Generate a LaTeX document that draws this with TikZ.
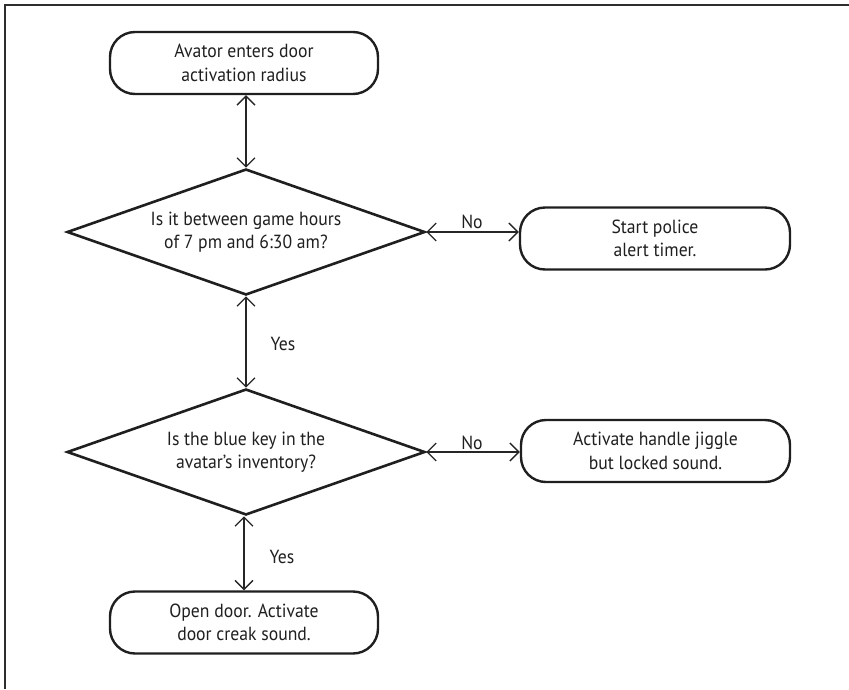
\documentclass[tikz,border=0pt]{standalone}
\usepackage{fontspec}
\setmainfont[FakeStretch=0.93]{PT Sans}
\usetikzlibrary{shapes.geometric,arrows.meta}
\begin{document}
\begin{tikzpicture}[x=1pt,y=-1pt,
  font=\fontsize{19}{23.5}\selectfont,
  proc/.style={draw=black!88,line width=2.4pt,rectangle,rounded corners=25pt,
    minimum width=268pt,minimum height=62pt,align=center,inner sep=0pt,text=black!88},
  decis/.style={draw=black!88,line width=2.6pt,diamond,shape aspect=2.84,
    minimum width=358pt,minimum height=126pt,align=center,inner sep=0pt,text=black!88},
  conn/.style={draw=black!85,line width=1.3pt,
    {Straight Barb[length=9pt,width=18pt]}-{Straight Barb[length=9pt,width=18pt]}},
  lbl/.style={text=black!88,inner sep=0pt}]
\useasboundingbox (0,0) rectangle (849,689);
\draw[line width=2.6pt,black!82] (5,689) -- (5,5) -- (849,5);

\node[proc] (start) at (244,63) {Avator enters door\\activation radius};
\node[decis] (d1) at (246,232) {Is it between game hours\\of 7 pm and 6:30 am?};
\node[proc,minimum width=270pt] (police) at (655,238.5) {Start police\\alert timer.};
\node[decis] (d2) at (246,452) {Is the blue key in the\\avatar’s inventory?};
\node[proc,minimum width=269pt] (jiggle) at (655.5,451) {Activate handle jiggle\\but locked sound.};
\node[proc] (open) at (244,622.5) {Open door. Activate\\door creak sound.};

\draw[conn] (start.south -| d1.north) -- (d1.north);
\draw[conn] (d1.east) -- (d1.east -| police.west);
\draw[conn] (d1.south) -- (d2.north);
\draw[conn] (d2.east) -- (d2.east -| jiggle.west);
\draw[conn] (d2.south -| open.north) -- (open.north);

\node[lbl] (no1) at (472,222) {No};
\node[lbl] (no2) at (472,443) {No};
\node[lbl] (yes1) at (283,344) {Yes};
\node[lbl] (yes2) at (282,557) {Yes};
\end{tikzpicture}
\end{document}
